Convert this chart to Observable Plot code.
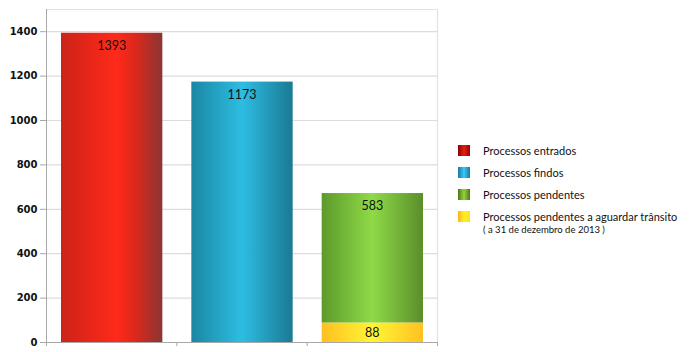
<!DOCTYPE html>
<html>
<head>
<meta charset="utf-8">
<script src="https://cdn.jsdelivr.net/npm/d3@7"></script>
<script src="https://cdn.jsdelivr.net/npm/@observablehq/plot@0.6"></script>
<style>
  body { margin: 0; background: #fff; }
  #wrap { position: relative; width: 690px; height: 352px; }
  #legend { position: absolute; left: 458px; top: 139px; font-family: "Lato", sans-serif; font-size: 11px; color: #111; white-space: nowrap; }
  .item { display: flex; align-items: center; height: 22px; }
  .sw { width: 12px; height: 11px; margin-right: 13px; flex: none; }
  .sub { font-size: 9.5px; margin-left: 25px; margin-top: -3px; }
</style>
</head>
<body>
<div id="wrap"></div>
<script>
const categories = ["Processos entrados", "Processos findos", "Processos pendentes"];
const series = ["Processos entrados", "Processos findos", "Processos pendentes a aguardar trânsito", "Processos pendentes"];
const seriesCategory = [0, 1, 2, 2];
const values = [1393, 1173, 88, 583];
const legendLabels = ["Processos entrados", "Processos findos", "Processos pendentes", "Processos pendentes a aguardar trânsito"];
const legendNote = "( a 31 de dezembro de 2013 )";
const yTicks = [0, 200, 400, 600, 800, 1000, 1200, 1400];

const gradients = {
  "Processos entrados": [["0%", "#cc2318"], ["55%", "#ff2a1a"], ["75%", "#d8281c"], ["100%", "#8a3634"]],
  "Processos findos": [["0%", "#1a87a3"], ["50%", "#2dbde2"], ["100%", "#1a7a94"]],
  "Processos pendentes": [["0%", "#5c9a2a"], ["50%", "#8fda48"], ["100%", "#5a8e2a"]],
  "Processos pendentes a aguardar trânsito": [["0%", "#ffbf22"], ["50%", "#fff533"], ["100%", "#ffc122"]]
};
const legendGrad = {
  "Processos entrados": "linear-gradient(90deg,#8c0000,#e02010,#a00000)",
  "Processos findos": "linear-gradient(90deg,#1878a8,#3cc8f0,#1878a8)",
  "Processos pendentes": "linear-gradient(90deg,#4a7a10,#9ad040,#4a7a10)",
  "Processos pendentes a aguardar trânsito": "linear-gradient(90deg,#ffb020,#fff020,#ffe020)"
};

// build stacked rows
const base = [0, 0, 0];
const rows = series.map((s, i) => {
  const c = seriesCategory[i];
  const y1 = base[c];
  const y2 = y1 + values[i];
  base[c] = y2;
  return { series: s, idx: i, x1: c, x2: c + 1, y1, y2, value: values[i] };
});

const gradId = s => "g" + series.indexOf(s);

const plot = Plot.plot({
  width: 690,
  height: 352,
  marginLeft: 46,
  marginRight: 253,
  marginTop: 9,
  marginBottom: 10,
  style: { fontFamily: "DejaVu Sans, sans-serif", fontSize: "10.5px", color: "#111", background: "#fff" },
  x: { domain: [0, 3] },
  y: { domain: [0, 1500] },
  marks: [
    Plot.gridY(yTicks, { stroke: "#dcdcdc", strokeOpacity: 1, strokeWidth: 1.2 }),
    Plot.ruleY([1500], { stroke: "#e2e2e2", strokeWidth: 1.2 }),
    Plot.ruleX([3], { stroke: "#e2e2e2", strokeWidth: 1.2 }),
    ...series.map(s => Plot.rectY(rows.filter(r => r.series === s), {
      x1: "x1", x2: "x2", y1: "y1", y2: "y2",
      insetLeft: 15, insetRight: 14,
      fill: `url(#${gradId(s)})`
    })),
    Plot.text(rows, {
      x: d => (d.x1 + d.x2) / 2, y: "y2", text: d => String(d.value),
      lineAnchor: "top",
      fontFamily: "Lato, sans-serif", fontSize: 12.5, fill: "#111"
    }),
    Plot.ruleX([0], { stroke: "#a8a8a8" }),
    Plot.ruleY([0], { stroke: "#a8a8a8" }),
    Plot.axisY(yTicks, { tickSize: 6, tickPadding: 3, stroke: "#a8a8a8", fill: "#111", fontWeight: "bold", fontSize: 10, label: null, tickFormat: d => String(d) }),
    Plot.axisX([0, 1, 2, 3], { tickSize: 4, tickFormat: () => "", stroke: "#a8a8a8", label: null })
  ]
});

// gradients
const svg = d3.select(plot);
const defs = svg.insert("defs", ":first-child");
series.forEach(s => {
  const g = defs.append("linearGradient").attr("id", gradId(s)).attr("x1", "0").attr("x2", "1").attr("y1", "0").attr("y2", "0");
  gradients[s].forEach(([o, c]) => g.append("stop").attr("offset", o).attr("stop-color", c));
});

// label offsets: position text inside bar tops
svg.selectAll("text").filter(function () { return /^(1393|1173|583|88)$/.test(this.textContent); })
  .each(function () {
    const v = this.textContent;
    d3.select(this).attr("dy", v === "88" ? "5px" : "8px");
  });

document.getElementById("wrap").appendChild(plot);

const legend = document.createElement("div");
legend.id = "legend";
legendLabels.forEach((l, i) => {
  const it = document.createElement("div");
  it.className = "item";
  const sw = document.createElement("div");
  sw.className = "sw";
  sw.style.background = legendGrad[l];
  const tx = document.createElement("span");
  tx.textContent = l;
  it.appendChild(sw); it.appendChild(tx);
  legend.appendChild(it);
});
const note = document.createElement("div");
note.className = "sub";
note.textContent = legendNote;
legend.appendChild(note);
document.getElementById("wrap").appendChild(legend);
</script>
</body>
</html>
